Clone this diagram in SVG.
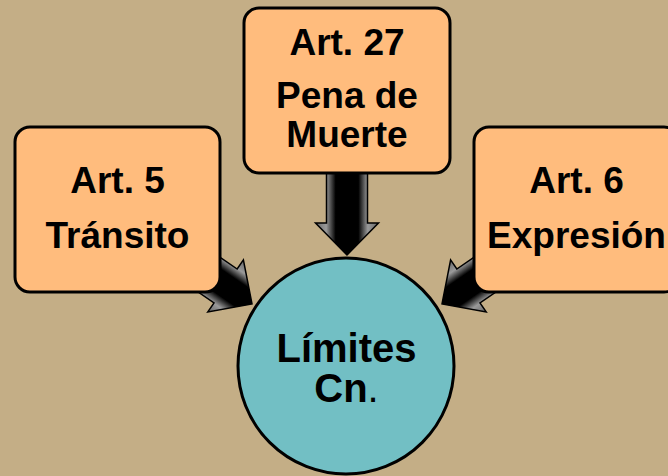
<svg xmlns="http://www.w3.org/2000/svg" width="668" height="476" viewBox="0 0 668 476">
<defs>
<style>
.box{fill:#FFBC7D;stroke:#000;stroke-width:3}
.t{font-family:"Liberation Sans",Arial,sans-serif;font-weight:bold;font-size:37px;text-anchor:middle;fill:#000}
.arrow{fill:url(#ag);stroke:#000;stroke-width:1.5;stroke-linejoin:miter}
</style>
<linearGradient id="ag" gradientUnits="userSpaceOnUse" x1="-31.5" y1="0" x2="31.5" y2="0">
<stop offset="0" stop-color="#666"/>
<stop offset="0.17" stop-color="#9a9a9a"/>
<stop offset="0.32" stop-color="#000"/>
<stop offset="0.68" stop-color="#000"/>
<stop offset="0.83" stop-color="#9a9a9a"/>
<stop offset="1" stop-color="#666"/>
</linearGradient>
<path id="arr" d="M-20.5,-82 L20.5,-82 L20.5,-32 L31.5,-32 L0,0 L-31.5,-32 L-20.5,-32 Z"/>
</defs>
<rect width="668" height="476" fill="#C4AE86"/>
<g id="connectors">
<use href="#arr" class="arrow" transform="translate(347,255)"/>
<use href="#arr" class="arrow" transform="translate(252,304) rotate(-55.6)"/>
<use href="#arr" class="arrow" transform="translate(442,304) rotate(55.6)"/>
</g>
<g id="art27">
<rect class="box" x="244" y="8" width="206" height="165" rx="15"/>
<text class="t" x="347" y="55">Art. 27</text>
<text class="t" x="347" y="108">Pena de</text>
<text class="t" x="347" y="147">Muerte</text>
</g>
<g id="art5">
<rect class="box" x="15" y="127" width="205" height="165" rx="15"/>
<text class="t" x="117.5" y="193">Art. 5</text>
<text class="t" x="117.5" y="248">Tránsito</text>
</g>
<g id="art6">
<rect class="box" x="474" y="127" width="205" height="165" rx="15"/>
<text class="t" x="576.5" y="193">Art. 6</text>
<text class="t" x="576.5" y="248">Expresión</text>
</g>
<g id="limites">
<circle cx="346" cy="366" r="108" fill="#72BFC4" stroke="#000" stroke-width="3"/>
<text class="t" x="346.5" y="362" style="font-size:40px">Límites</text>
<text class="t" x="346.5" y="402" style="font-size:40px">Cn<tspan style="font-weight:normal">.</tspan></text>
</g>
</svg>
